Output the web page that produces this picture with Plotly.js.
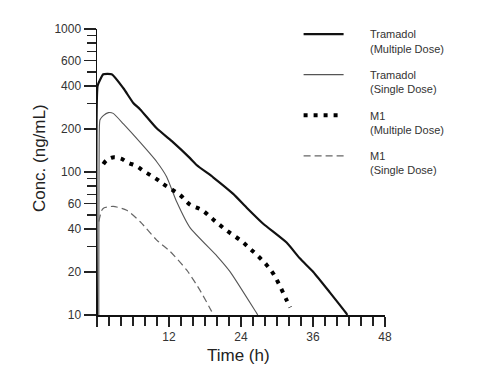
<!DOCTYPE html>
<html>
<head>
<meta charset="utf-8">
<script src="https://cdn.plot.ly/plotly-3.0.1.min.js"></script>
<style>html,body{margin:0;padding:0;background:#fff;}#chart{width:480px;height:379px;}</style>
</head>
<body>
<div id="chart"></div>
<script>
// Time (h) and concentration (ng/mL)
const tramMultiT = [0, 0.1, 0.5, 1.05, 2.45, 4.4, 6.05, 7.2, 9.95, 12.7, 15.5, 16.6, 19.4, 22.7, 24.95, 27.7, 31.6, 33.8, 36.05, 38.8, 41.6, 41.7];
const tramMultiC = [10, 400, 440, 482, 482, 385, 304, 274, 202, 161, 125, 112, 91.5, 70.3, 56.3, 43.5, 32.1, 24.9, 20, 14.4, 10.2, 10];

const tramSingleT = [0.3, 0.4, 0.5, 1.05, 1.9, 2.7, 4.4, 7.2, 9.95, 11.6, 13.3, 15.5, 20, 22.2, 26.6, 26.8];
const tramSingleC = [10, 209, 232, 248, 260, 257, 217, 161, 118, 92.7, 61.6, 40.8, 25.8, 20, 10.3, 10];

const m1MultiT = [1.05, 1.6, 2.6, 4, 5.2, 6.6, 7.8, 9.1, 10.2, 11.05, 13.8, 15.5, 17.45, 19.4, 21.6, 24.1, 25.5, 26.9, 28.3, 29.4, 30.5, 31.6, 32.2];
const m1MultiC = [113.7, 121, 126.5, 124, 116, 110, 101.5, 93.9, 87.7, 82.3, 69.2, 59.2, 54.3, 46.4, 39, 32.8, 29.1, 25.7, 22.3, 19.4, 15.9, 12.7, 11.3];

const m1SingleT = [0.3, 0.8, 1.2, 2.7, 4.95, 7.2, 9.95, 12.2, 15, 17.2, 19.1, 19.4];
const m1SingleC = [45, 54, 56.2, 57.5, 54, 44.9, 33.4, 27.8, 20.5, 14.8, 10.6, 10];

const seriesLine1 = ["Tramadol", "Tramadol", "M1", "M1"];
const seriesLine2 = ["(Multiple Dose)", "(Single Dose)", "(Multiple Dose)", "(Single Dose)"];

const yMajor = [10, 20, 40, 60, 100, 200, 400, 600, 1000];
const yMajorText = ["10", "20", "40", "60", "100", "200", "400", "600", "1000"];
const yMinor = [30, 50, 70, 80, 90, 300, 500, 700, 800, 900];
const xMajor = [0, 12, 24, 36, 48];
const xMajorText = ["", "12", "24", "36", "48"];

const FONT = "Liberation Sans Narrow, Arial Narrow, Liberation Sans, Arial, sans-serif";
const PAD = "\u00a0\u00a0\u00a0\u00a0\u00a0\u00a0\u00a0";
const legendName = i => PAD + seriesLine1[i] + "<br>" + PAD + seriesLine2[i];

const traces = [
  {x: tramMultiT, y: tramMultiC, name: legendName(0), legendgroup: "a", mode: "lines", line: {color: "#111", width: 2.2, shape: "spline", smoothing: 0.5}},
  {x: tramSingleT, y: tramSingleC, name: legendName(1), legendgroup: "b", mode: "lines", line: {color: "#555", width: 1.1, shape: "spline", smoothing: 0.5}},
  {x: m1MultiT, y: m1MultiC, name: legendName(2), legendgroup: "c", mode: "lines", line: {color: "#000", width: 4, dash: "4px,6px", shape: "spline"}},
  {x: m1SingleT, y: m1SingleC, name: legendName(3), legendgroup: "d", mode: "lines", line: {color: "#666", width: 1.2, dash: "7px,4px", shape: "spline", smoothing: 0.6}}
];

const layout = {
  width: 480, height: 379,
  margin: {l: 97, r: 95, t: 29, b: 64},
  paper_bgcolor: "#fff", plot_bgcolor: "#fff",
  font: {family: FONT, color: "#333", size: 12},
  showlegend: true,
  legend: {x: 0.70, xanchor: "left", y: 1.03, yanchor: "top", valign: "top", itemwidth: 40,
           tracegroupgap: 9,
           font: {family: FONT, size: 11, color: "#333"}, bgcolor: "rgba(0,0,0,0)"},
  xaxis: {range: [0, 48], showline: true, linecolor: "#111", linewidth: 1.5, mirror: false,
          showgrid: false, zeroline: false, ticks: "outside", ticklen: 10, tickwidth: 1.3, tickcolor: "#222",
          tickmode: "array", tickvals: xMajor, ticktext: xMajorText,
          tickfont: {family: FONT, size: 12, color: "#333"},
          minor: {dtick: 2, ticks: "outside", ticklen: 9, tickwidth: 1.3, tickcolor: "#222", showgrid: false}},
  yaxis: {type: "log", range: [1, 3], showline: true, linecolor: "#111", linewidth: 1.5,
          showgrid: false, zeroline: false, ticks: "outside", ticklen: 12, tickwidth: 1.3, tickcolor: "#222",
          tickmode: "array", tickvals: yMajor, ticktext: yMajorText,
          tickfont: {family: FONT, size: 12, color: "#333"},
          minor: {tickvals: yMinor, ticks: "outside", ticklen: 9, tickwidth: 1.3, tickcolor: "#222", showgrid: false}},
  annotations: [
    {text: "Time (h)", xref: "paper", yref: "paper", x: 0.49, y: -0.14, xanchor: "center", yanchor: "middle",
     showarrow: false, font: {family: FONT, size: 17, color: "#222"}},
    {text: "Conc. (ng/mL)", xref: "paper", yref: "paper", x: -0.2, y: 0.55, textangle: -90, xanchor: "center", yanchor: "middle",
     showarrow: false, font: {family: FONT, size: 17, color: "#222"}}
  ]
};

Plotly.newPlot("chart", traces, layout, {staticPlot: true, displayModeBar: false});
</script>
</body>
</html>
